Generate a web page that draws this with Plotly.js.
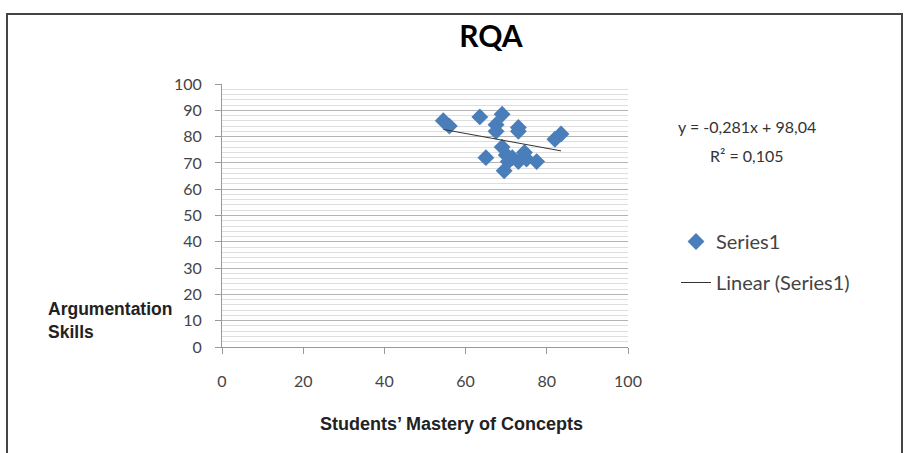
<!DOCTYPE html>
<html>
<head>
<meta charset="utf-8">
<script src="https://cdn.plot.ly/plotly-3.0.1.min.js"></script>
<style>html,body{margin:0;padding:0;background:#fff;}#chart{width:905px;height:453px;}</style>
</head>
<body>
<div id="chart"></div>
<script>
// Data
const masteryX = [54.5, 56, 63.5, 69, 67.5, 67.5, 73, 73, 65, 69, 71.5, 69.5, 70.5, 74.5, 75, 77.5, 73, 82, 83.5, 70];
const argumentY = [86, 84, 87.5, 88.5, 84.5, 82, 83.5, 82, 72, 76, 72, 67, 70.5, 74, 71.5, 70.5, 70.5, 79, 81, 73];
const trendSlope = -0.281;
const trendIntercept = 98.04;
const equationLines = ["y = -0,281x + 98,04", "R² = 0,105"];
const xTicks = [0, 20, 40, 60, 80, 100];
const yTicks = [0, 10, 20, 30, 40, 50, 60, 70, 80, 90, 100];

const xMin = Math.min(...masteryX), xMax = Math.max(...masteryX);
const trendX = [xMin, xMax];
const trendY = trendX.map(x => trendSlope * x + trendIntercept);

const tickFont = {family: "Lato, 'Open Sans', sans-serif", size: 16, color: "#444"};
const boldFont = {family: "'Liberation Sans', Arial, sans-serif", size: 18, color: "#222"};

const traces = [
  {x: masteryX, y: argumentY, type: "scatter", mode: "markers", name: "Series1", legendgroup: "a",
   marker: {symbol: "diamond", size: 13, color: "#4A7EBB"}},
  {x: trendX, y: trendY, type: "scatter", mode: "lines", name: "Linear (Series1)", legendgroup: "b",
   line: {color: "#333", width: 1}}
];

const layout = {
  width: 905, height: 453,
  margin: {l: 222, r: 277, t: 84, b: 106},
  paper_bgcolor: "#fff", plot_bgcolor: "#fff",
  title: {text: "<b>RQA</b>", font: {family: "Lato, 'Open Sans', sans-serif", size: 30, color: "#000"},
          xref: "container", x: 491/905, xanchor: "center", yref: "container", y: 1 - 36/453, yanchor: "middle"},
  xaxis: {range: [0, 100], tickvals: xTicks, ticks: "outside", ticklen: 6, tickcolor: "#999",
          showgrid: false, zeroline: false, showline: true, linecolor: "#999", linewidth: 1,
          tickfont: tickFont, ticklabelstandoff: 14, fixedrange: true},
  yaxis: {range: [0, 100], tickvals: yTicks, ticks: "outside", ticklen: 6, tickcolor: "#999",
          showgrid: true, gridcolor: "#b4b4b4", gridwidth: 1, zeroline: false,
          showline: true, linecolor: "#999", linewidth: 1,
          minor: {dtick: 2, showgrid: true, gridcolor: "#dedede", gridwidth: 1},
          tickfont: tickFont, ticklabelstandoff: 10, fixedrange: true},
  showlegend: true,
  legend: {x: (676 - 222) / 406, y: (347 - 222) / 263, xanchor: "left", yanchor: "top",
           font: {family: "Lato, 'Open Sans', sans-serif", size: 20, color: "#444"},
           bgcolor: "rgba(0,0,0,0)", tracegroupgap: 12, traceorder: "grouped"},
  annotations: [
    {text: equationLines[0], xref: "paper", yref: "paper", x: (747 - 222) / 406, y: (347 - 127) / 263,
     showarrow: false, xanchor: "center", yanchor: "middle", font: {family: "Lato, 'Open Sans', sans-serif", size: 16, color: "#333"}},
    {text: equationLines[1], xref: "paper", yref: "paper", x: (747 - 222) / 406, y: (347 - 155) / 263,
     showarrow: false, xanchor: "center", yanchor: "middle", font: {family: "Lato, 'Open Sans', sans-serif", size: 16, color: "#333"}},
    {text: "<b>Argumentation<br>Skills</b>", xref: "paper", yref: "paper", x: (46 - 222) / 406, y: (347 - 320) / 263,
     showarrow: false, xanchor: "left", yanchor: "middle", align: "left", font: {family: "'Liberation Sans', Arial, sans-serif", size: 17.5, color: "#222"}},
    {text: "<b>Students’ Mastery of Concepts</b>", xref: "paper", yref: "paper", x: (451 - 222) / 406, y: (347 - 424) / 263,
     showarrow: false, xanchor: "center", yanchor: "middle", font: boldFont}
  ],
  shapes: [
    {type: "rect", xref: "paper", yref: "paper", x0: (7 - 222) / 406, x1: (902 - 222) / 406,
     y0: (347 - 470) / 263, y1: (347 - 14) / 263, line: {color: "#444", width: 2}}
  ]
};

Plotly.newPlot("chart", traces, layout, {displayModeBar: false, staticPlot: true});
</script>
</body>
</html>
